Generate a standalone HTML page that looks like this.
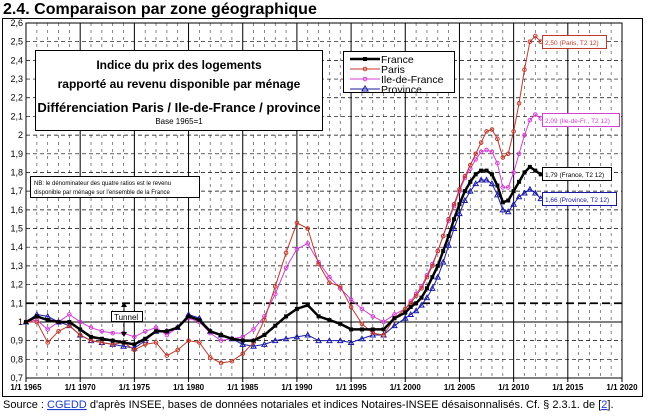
<!DOCTYPE html>
<html><head><meta charset="utf-8"><style>
body{margin:0;width:647px;height:412px;background:#fff;overflow:hidden;font-family:"Liberation Sans",sans-serif}
</style></head><body>
<svg width="647" height="412" xmlns="http://www.w3.org/2000/svg" font-family="Liberation Sans, sans-serif">
<text x="3" y="14" font-size="16" font-weight="bold">2.4. Comparaison par zone géographique</text>
<rect x="2.5" y="18.5" width="640" height="378" fill="none" stroke="#000"/>
<g id="grid"></g>
<g id="axes"></g>
<g id="series"></g>
<g>
<rect x="35.5" y="50.5" width="287" height="80" fill="#fff" stroke="#000"/>
<text x="179" y="69" font-size="12" font-weight="bold" text-anchor="middle">Indice du prix des logements</text>
<text x="179" y="88" font-size="12" font-weight="bold" text-anchor="middle">rapporté au revenu disponible par ménage</text>
<text x="179" y="112" font-size="13" font-weight="bold" text-anchor="middle">Différenciation Paris / Ile-de-France / province</text>
<text x="179" y="124" font-size="8" text-anchor="middle">Base 1965=1</text>
</g>
<g>
<rect x="30.5" y="176.5" width="169" height="21" fill="#fff" stroke="#000"/>
<text x="34" y="185" font-size="6">NB: le dénominateur des quatre ratios est le revenu</text>
<text x="34" y="194" font-size="6">disponible par ménage sur l'ensemble de la France</text>
</g>
<g>
<rect x="343.5" y="51.5" width="111" height="41" fill="#fff" stroke="#000"/>
<line x1="350" y1="59" x2="380" y2="59" stroke="#000" stroke-width="2.5"/><rect x="363" y="57" width="4" height="4"/>
<text x="381" y="63" font-size="10.5">France</text>
<line x1="350" y1="69" x2="380" y2="69" stroke="#c0392b"/><circle cx="365" cy="69" r="1.8" fill="none" stroke="#c0392b"/>
<text x="381" y="73" font-size="10.5">Paris</text>
<line x1="350" y1="79" x2="380" y2="79" stroke="#d43fd4"/><circle cx="365" cy="79" r="1.8" fill="none" stroke="#d43fd4"/>
<text x="381" y="83" font-size="10.5">Ile-de-France</text>
<line x1="350" y1="89" x2="380" y2="89" stroke="#1a1aa6"/><path d="M362,91 L365,86 L368,91Z" fill="none" stroke="#1a1aa6"/>
<text x="381" y="93" font-size="10.5">Province</text>
</g>
<g font-size="6.5">
<rect x="542.5" y="35.5" width="64" height="13" fill="#fff" stroke="#c0392b"/><text x="545" y="45" fill="#c0392b">2,50 (Paris, T2 12)</text>
<rect x="542.5" y="113.5" width="77" height="13" fill="#fff" stroke="#d43fd4"/><text x="545" y="123" fill="#d43fd4">2,09 (Ile-de-Fr., T2 12)</text>
<rect x="542.5" y="167.5" width="69" height="13" fill="#fff" stroke="#000"/><text x="545" y="177">1,79 (France, T2 12)</text>
<rect x="542.5" y="192.5" width="74" height="13" fill="#fff" stroke="#1a1aa6"/><text x="545" y="202" fill="#1a1aa6">1,66 (Province, T2 12)</text>
</g>
<g>
<line x1="124" y1="303" x2="124" y2="336" stroke="#000"/>
<path d="M121,307 L124,302 L127,307Z M121,332 L124,337 L127,332Z" fill="#000"/>
<rect x="111.5" y="311.5" width="31" height="10" fill="#fff" stroke="#000"/>
<text x="114" y="320" font-size="8">Tunnel</text>
</g>
<text x="3" y="408" font-size="11">Source : <tspan fill="#1a3cc8" text-decoration="underline">CGEDD</tspan> d'après INSEE, bases de données notariales et indices Notaires-INSEE désaisonnalisés.  Cf. § 2.3.1. de [<tspan fill="#1a3cc8" text-decoration="underline">2</tspan>].</text>
</svg>
<script>
const years = [];
for (let y = 1965; y <= 1999; y++) years.push(y);
for (let y = 2000; y <= 2012.5; y += 0.5) years.push(y);
const france = [1.0,1.03,1.01,1.0,1.0,0.96,0.92,0.91,0.90,0.89,0.88,0.91,0.95,0.95,0.97,1.03,1.01,0.95,0.93,0.91,0.90,0.90,0.93,0.98,1.03,1.07,1.09,1.03,1.01,0.99,0.96,0.96,0.96,0.96,1.02,
1.05,1.08,1.10,1.13,1.18,1.24,1.30,1.38,1.46,1.55,1.63,1.70,1.75,1.79,1.81,1.81,1.79,1.73,1.64,1.65,1.70,1.75,1.80,1.83,1.81,1.79];
const paris = [1.0,1.0,0.89,0.95,0.98,0.93,0.90,0.89,0.88,0.89,0.85,0.88,0.89,0.82,0.85,0.90,0.89,0.81,0.78,0.79,0.83,0.89,1.01,1.19,1.37,1.53,1.50,1.31,1.21,1.19,1.08,0.99,0.94,0.93,1.02,
1.07,1.10,1.14,1.18,1.24,1.30,1.38,1.46,1.55,1.63,1.71,1.78,1.84,1.90,1.96,2.02,2.03,1.98,1.88,1.90,2.02,2.17,2.35,2.50,2.53,2.50];
const idf = [1.0,1.01,0.96,1.0,1.04,1.0,0.97,0.95,0.94,0.94,0.92,0.95,0.97,0.93,0.97,1.02,1.0,0.94,0.90,0.91,0.92,0.96,1.03,1.15,1.29,1.39,1.42,1.32,1.24,1.18,1.12,1.07,1.03,1.0,1.04,
1.07,1.11,1.15,1.19,1.25,1.31,1.38,1.46,1.54,1.62,1.70,1.77,1.82,1.87,1.91,1.92,1.91,1.85,1.72,1.72,1.80,1.90,2.00,2.08,2.11,2.09];
const province = [1.0,1.04,1.03,1.0,0.98,0.93,0.90,0.89,0.88,0.87,0.86,0.90,0.95,0.95,0.97,1.04,1.02,0.95,0.93,0.91,0.88,0.87,0.88,0.90,0.91,0.92,0.93,0.90,0.90,0.90,0.89,0.91,0.93,0.93,0.98,
1.02,1.04,1.06,1.09,1.13,1.18,1.24,1.32,1.41,1.50,1.58,1.65,1.70,1.74,1.76,1.76,1.74,1.68,1.60,1.59,1.63,1.67,1.69,1.71,1.69,1.66];
const yTicks = [0.7,0.8,0.9,1,1.1,1.2,1.3,1.4,1.5,1.6,1.7,1.8,1.9,2,2.1,2.2,2.3,2.4,2.5,2.6];
const xTicks = [1965,1970,1975,1980,1985,1990,1995,2000,2005,2010,2015,2020];

const X0=26,X1=622,Y0=378,Y1=23;
const sx = y => X0 + (y-1965)/(2020-1965)*(X1-X0);
const sy = v => Y0 - (v-0.7)/(2.6-0.7)*(Y0-Y1);
const NS="http://www.w3.org/2000/svg";
function mk(tag, parent){const e=document.createElementNS(NS,tag);parent.appendChild(e);return e;}
const grid=document.getElementById('grid'), axes=document.getElementById('axes'), ser=document.getElementById('series');
for (let y=1966;y<2020;y++){ if((y-1965)%5===0) continue;
  const l=mk('line',grid); l.setAttribute('x1',sx(y));l.setAttribute('x2',sx(y));l.setAttribute('y1',Y1);l.setAttribute('y2',Y0);
  l.setAttribute('stroke','#555');l.setAttribute('stroke-dasharray','3,4');l.setAttribute('stroke-width','0.7');
  
  }
yTicks.forEach(t=>{
  const l=mk('line',grid); l.setAttribute('x1',X0);l.setAttribute('x2',X1);l.setAttribute('y1',sy(t));l.setAttribute('y2',sy(t));
  const isOne=Math.abs(t-1)<1e-9, isTun=Math.abs(t-1.1)<1e-9;
  l.setAttribute('stroke','#000');
  if(isOne){l.setAttribute('stroke-width','1');}
  else if(isTun){l.setAttribute('stroke-width','1.8');l.setAttribute('stroke-dasharray','8,4');}
  else {l.setAttribute('stroke-width','0.7');l.setAttribute('stroke-dasharray','4,3');}
  
  
  const tx=mk('text',axes); tx.setAttribute('x',X0-3);tx.setAttribute('y',sy(t)+3);tx.setAttribute('font-size','9');tx.setAttribute('text-anchor','end');
  tx.textContent=String(Math.round(t*10)/10).replace('.',',');
  
  
});
xTicks.forEach(t=>{
  const l=mk('line',grid); l.setAttribute('x1',sx(t));l.setAttribute('x2',sx(t));l.setAttribute('y1',Y1);l.setAttribute('y2',Y0+4);
  l.setAttribute('stroke','#000');l.setAttribute('stroke-width','1');
  
  
  const tx=mk('text',axes); tx.setAttribute('x',sx(t));tx.setAttribute('y',Y0+12);tx.setAttribute('font-size','8');tx.setAttribute('font-weight','bold');tx.setAttribute('text-anchor','middle');
  tx.textContent='1/1 '+t;
  
  
});
const fr=mk('rect',axes);fr.setAttribute('x',X0);fr.setAttribute('y',Y1);fr.setAttribute('width',X1-X0);fr.setAttribute('height',Y0-Y1);fr.setAttribute('fill','none');fr.setAttribute('stroke','#000');


function draw(vals,color,w,marker,name){
  const g=mk('g',ser);
  
  
  const p=mk('polyline',g);
  p.setAttribute('points',vals.map((v,i)=>sx(years[i])+','+sy(v)).join(' '));
  p.setAttribute('fill','none');p.setAttribute('stroke',color);p.setAttribute('stroke-width',w);
  vals.forEach((v,i)=>{const x=sx(years[i]),y=sy(v);let m;
    if(marker==='sq'){m=mk('rect',g);m.setAttribute('x',x-2);m.setAttribute('y',y-2);m.setAttribute('width',4);m.setAttribute('height',4);m.setAttribute('fill',color);}
    else if(marker==='tri'){m=mk('path',g);m.setAttribute('d',`M${x-2.5},${y+2} L${x},${y-2.5} L${x+2.5},${y+2}Z`);m.setAttribute('fill','none');m.setAttribute('stroke',color);}
    else {m=mk('circle',g);m.setAttribute('cx',x);m.setAttribute('cy',y);m.setAttribute('r',1.8);m.setAttribute('fill','none');m.setAttribute('stroke',color);}
    
    
  });
}
draw(province,'#1a1aa6',1,'tri','series-province');
draw(idf,'#d43fd4',1,'circ','series-ile-de-france');
draw(paris,'#c0392b',1,'circ','series-paris');
draw(france,'#000',2.5,'sq','series-france');
</script>
</body></html>
